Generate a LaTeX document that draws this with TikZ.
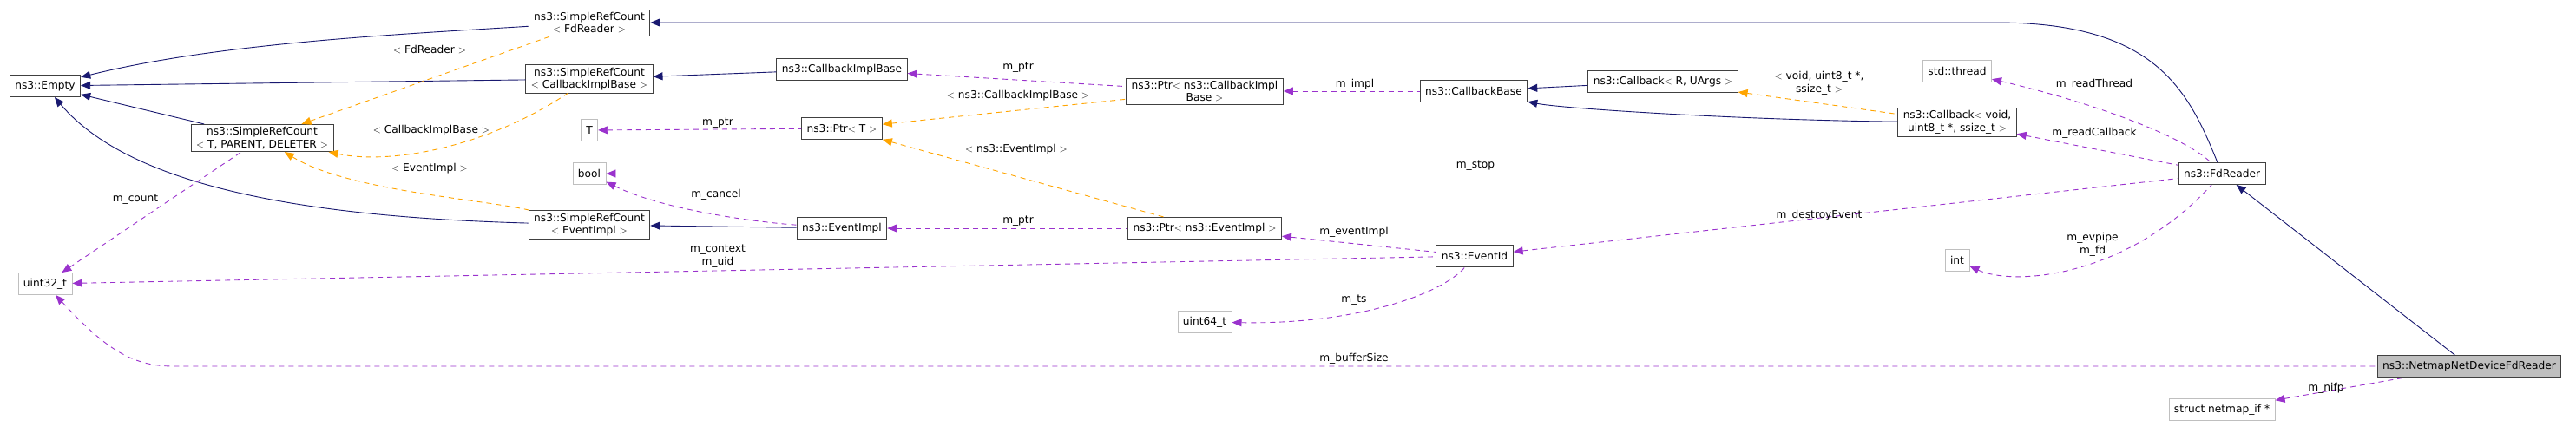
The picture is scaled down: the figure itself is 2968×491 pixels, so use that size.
\documentclass[tikz,border=0pt]{standalone}
\usepackage{fontspec}
\setmainfont{DejaVu Sans}
\usetikzlibrary{arrows.meta}
\definecolor{navy}{RGB}{25, 25, 112}
\definecolor{usage}{RGB}{154, 50, 205}
\definecolor{tmpl}{RGB}{255, 165, 0}
\definecolor{extgray}{RGB}{191, 191, 191}
\tikzset{
    cls/.style={draw=black!75, line width=0.9pt, fill=white, align=center,
        inner xsep=6pt, inner ysep=3pt, minimum height=25pt},
    ext/.style={cls, draw=extgray},
    inherit/.style={<-, draw=navy, line width=0.9pt,
        >={Triangle[length=11pt, width=9pt]}},
    uses/.style={<-, draw=usage, dashed, dash pattern=on 6pt off 5pt,
        line width=0.9pt, >={Triangle[length=11pt, width=9pt]}},
    templ/.style={uses, draw=tmpl},
    lbl/.style={align=center, inner sep=1pt}
}

\begin{document}
\begin{tikzpicture}[x=1pt, y=-1pt, font=\fontsize{12.2}{14.5}\selectfont]
    \useasboundingbox[fill=white] (0, 0) rectangle (2968, 491);
    \node[cls] (empty) at (52, 99) {ns3::Empty};
    \node[ext] (uint32) at (52, 327) {uint32\_t};
    \node[cls] (src-tpd) at (302, 159) {ns3::SimpleRefCount\\$<$ T, PARENT, DELETER $>$};
    \node[cls] (src-fd) at (679, 26) {ns3::SimpleRefCount\\$<$ FdReader $>$};
    \node[cls] (src-cib) at (679, 91) {ns3::SimpleRefCount\\$<$ CallbackImplBase $>$};
    \node[ext] (t) at (679, 150) {T};
    \node[ext] (bool) at (679, 200) {bool};
    \node[cls] (src-ev) at (679, 259) {ns3::SimpleRefCount\\$<$ EventImpl $>$};
    \node[cls] (cib) at (970, 80) {ns3::CallbackImplBase};
    \node[cls] (ptr-t) at (970, 148) {ns3::Ptr$<$ T $>$};
    \node[cls] (evimpl) at (970, 263) {ns3::EventImpl};
    \node[cls] (ptr-cib) at (1388, 105) {ns3::Ptr$<$ ns3::CallbackImpl\\Base $>$};
    \node[cls] (ptr-ev) at (1388, 263) {ns3::Ptr$<$ ns3::EventImpl $>$};
    \node[ext] (uint64) at (1388, 371) {uint64\_t};
    \node[cls] (cbbase) at (1698, 105) {ns3::CallbackBase};
    \node[cls] (evid) at (1699, 295) {ns3::EventId};
    \node[cls] (cb-r) at (1916, 94) {ns3::Callback$<$ R, UArgs $>$};
    \node[ext] (thread) at (2255, 82) {std::thread};
    \node[cls] (cb-void) at (2255, 141) {ns3::Callback$<$ void,\\uint8\_t *, ssize\_t $>$};
    \node[ext] (int) at (2255, 300) {int};
    \node[cls] (fdr) at (2560, 200) {ns3::FdReader};
    \node[ext] (nifp) at (2560, 472) {struct netmap\_if *};
    \node[cls, fill=extgray] (netmap) at (2845, 422) {ns3::NetmapNetDeviceFdReader};

    % inheritance
    \draw[inherit] (empty) .. controls (250, 50) and (450, 40) .. (src-fd);
    \draw[inherit] (empty) -- (src-cib);
    \draw[inherit] (empty) -- (src-tpd);
    \draw[inherit] (empty) .. controls (150, 215) and (350, 250) .. (src-ev);
    \draw[inherit] (src-fd) -- (2300, 26) .. controls (2480, 26) and (2520, 100) .. (fdr);
    \draw[inherit] (src-cib) -- (cib);
    \draw[inherit] (src-ev) -- (evimpl);
    \draw[inherit] (cbbase) -- (cb-r);
    \draw[inherit] (cbbase) .. controls (1800, 125) and (2000, 138) .. (cb-void);
    \draw[inherit] (fdr) -- (netmap);

    % template instances
    \draw[templ] (src-tpd) -- (src-fd);
    \draw[templ] (src-tpd) .. controls (450, 190) and (560, 170) .. (src-cib);
    \draw[templ] (src-tpd) .. controls (400, 220) and (560, 230) .. (src-ev);
    \draw[templ] (ptr-t) -- (ptr-cib);
    \draw[templ] (ptr-t) -- (ptr-ev);
    \draw[templ] (cb-r) -- (cb-void);
    \node[lbl] (l-fdr) at (495, 57) {$<$ FdReader $>$};
    \node[lbl] (l-cib) at (497, 150) {$<$ CallbackImplBase $>$};
    \node[lbl] (l-ev) at (495, 194) {$<$ EventImpl $>$};
    \node[lbl] (l-pcib) at (1173, 110) {$<$ ns3::CallbackImplBase $>$};
    \node[lbl] (l-pev) at (1171, 172) {$<$ ns3::EventImpl $>$};
    \node[lbl] (l-cbv) at (2096, 96) {$<$ void, uint8\_t *,\\ssize\_t $>$};

    % members
    \draw[uses] (uint32) -- (src-tpd);
    \draw[uses] (t) -- (ptr-t);
    \draw[uses] (bool) -- (fdr);
    \draw[uses] (bool) .. controls (760, 240) and (860, 255) .. (evimpl);
    \draw[uses] (cib) -- (ptr-cib);
    \draw[uses] (ptr-cib) -- (cbbase);
    \draw[uses] (evimpl) -- (ptr-ev);
    \draw[uses] (ptr-ev) -- (evid);
    \draw[uses] (uint32) -- (evid);
    \draw[uses] (uint64) .. controls (1560, 374) and (1660, 340) .. (evid);
    \draw[uses] (evid) -- (fdr);
    \draw[uses] (thread) .. controls (2420, 120) and (2520, 160) .. (fdr);
    \draw[uses] (cb-void) -- (fdr);
    \draw[uses] (int) .. controls (2320, 330) and (2450, 320) .. (fdr);
    \draw[uses] (uint32) .. controls (120, 400) and (150, 422) .. (200, 422) -- (netmap);
    \draw[uses] (nifp) -- (netmap);
    \node[lbl] (l-count) at (156, 230) {m\_count};
    \node[lbl] (l-tptr) at (827, 142) {m\_ptr};
    \node[lbl] (l-cancel) at (825, 224) {m\_cancel};
    \node[lbl] (l-ctx) at (827, 295) {m\_context\\m\_uid};
    \node[lbl] (l-cptr) at (1173, 78) {m\_ptr};
    \node[lbl] (l-impl) at (1561, 97) {m\_impl};
    \node[lbl] (l-stop) at (1700, 191) {m\_stop};
    \node[lbl] (l-eptr) at (1173, 255) {m\_ptr};
    \node[lbl] (l-evimpl) at (1560, 267) {m\_eventImpl};
    \node[lbl] (l-ts) at (1560, 346) {m\_ts};
    \node[lbl] (l-buf) at (1560, 413) {m\_bufferSize};
    \node[lbl] (l-thread) at (2413, 97) {m\_readThread};
    \node[lbl] (l-rcb) at (2413, 153) {m\_readCallback};
    \node[lbl] (l-destroy) at (2096, 248) {m\_destroyEvent};
    \node[lbl] (l-evpipe) at (2411, 282) {m\_evpipe\\m\_fd};
    \node[lbl] (l-nifp) at (2680, 447) {m\_nifp};
\end{tikzpicture}
\end{document}
